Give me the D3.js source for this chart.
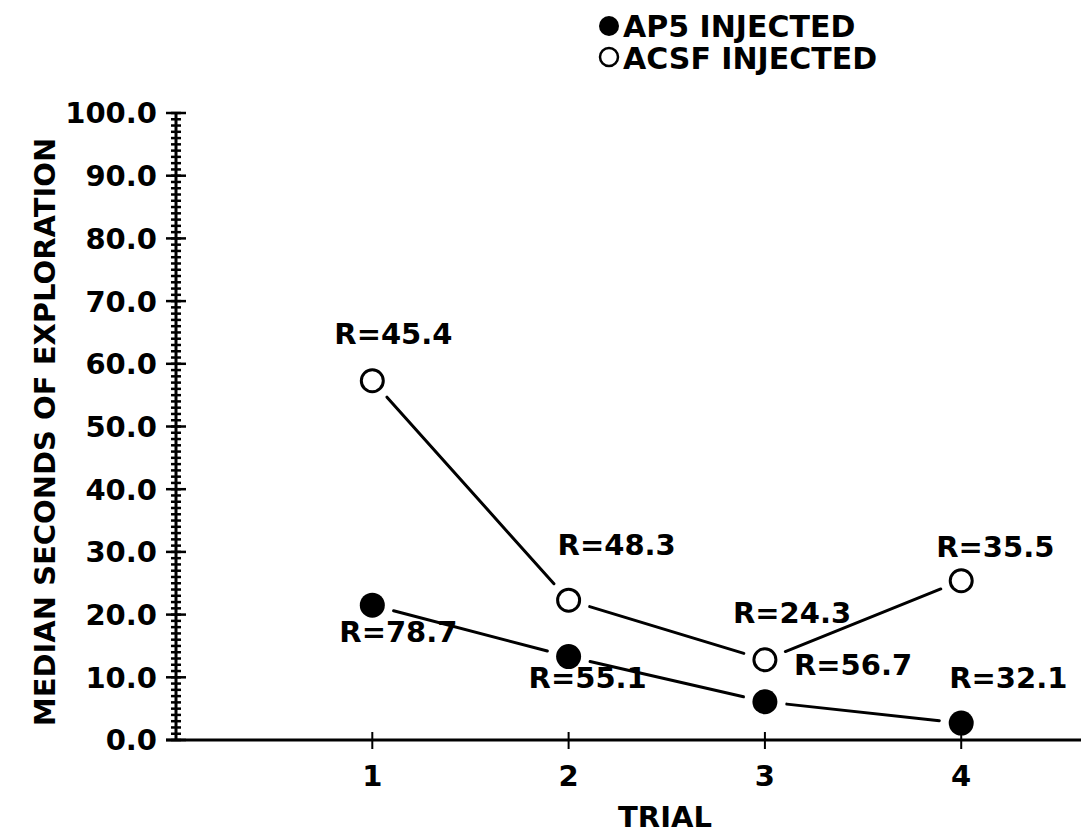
<!DOCTYPE html>
<html><head><meta charset="utf-8">
<script src="https://cdn.jsdelivr.net/npm/d3@7"></script>
<style>
body{margin:0;background:#fff}
svg text{font-family:"DejaVu Sans",sans-serif;font-weight:bold;fill:#000}
</style>
</head><body>
<svg id="c" width="1081" height="835"></svg>
<script>
// ---- data ----
const trials = [1, 2, 3, 4];
const trialLabels = ["1", "2", "3", "4"];
const ap5 = [21.5, 13.3, 6.1, 2.7];
const acsf = [57.3, 22.3, 12.8, 25.4];
const ap5R = ["R=78.7", "R=55.1", "R=56.7", "R=32.1"];
const acsfR = ["R=45.4", "R=48.3", "R=24.3", "R=35.5"];
const yTicks = [0, 10, 20, 30, 40, 50, 60, 70, 80, 90, 100];
const yTickLabels = ["0.0", "10.0", "20.0", "30.0", "40.0", "50.0", "60.0", "70.0", "80.0", "90.0", "100.0"];
const seriesNames = ["AP5 INJECTED", "ACSF INJECTED"];
const xTitle = "TRIAL";
const yTitle = "MEDIAN SECONDS OF EXPLORATION";

// ---- layout ----
const svg = d3.select("#c");
const x = d3.scaleLinear().domain([0, 4.6]).range([176, 1079]);
const y = d3.scaleLinear().domain([0, 100]).range([740, 113]);
const FS = 29;

// y axis line
svg.append("line").attr("x1", x(0)).attr("x2", x(0)).attr("y1", y(0)).attr("y2", y(100))
  .attr("stroke", "#000").attr("stroke-width", 3);
// minor ticks every 1 unit
svg.append("g").selectAll("line").data(d3.range(0, 101, 1)).join("line")
  .attr("x1", x(0) - 5).attr("x2", x(0) + 5)
  .attr("y1", d => y(d)).attr("y2", d => y(d))
  .attr("stroke", "#000").attr("stroke-width", 2.5);
// major ticks
svg.append("g").selectAll("line").data(yTicks).join("line")
  .attr("x1", x(0) - 10).attr("x2", x(0) + 10)
  .attr("y1", d => y(d)).attr("y2", d => y(d))
  .attr("stroke", "#000").attr("stroke-width", 2.5);
// y tick labels
svg.append("g").selectAll("text").data(yTicks).join("text")
  .attr("x", 157).attr("y", d => y(d)).attr("dy", "0.36em")
  .attr("text-anchor", "end").attr("font-size", FS)
  .text((d, i) => yTickLabels[i]);

// x axis line
svg.append("line").attr("x1", x(0) - 10).attr("x2", 1081).attr("y1", y(0)).attr("y2", y(0))
  .attr("stroke", "#000").attr("stroke-width", 3);
svg.append("g").selectAll("line").data(trials).join("line")
  .attr("x1", d => x(d)).attr("x2", d => x(d))
  .attr("y1", y(0) - 8).attr("y2", y(0) + 9)
  .attr("stroke", "#000").attr("stroke-width", 2);
svg.append("g").selectAll("text").data(trials).join("text")
  .attr("x", d => x(d)).attr("y", 786).attr("text-anchor", "middle")
  .attr("font-size", FS).text((d, i) => trialLabels[i]);

// titles
svg.append("text").attr("x", 665).attr("y", 827).attr("text-anchor", "middle")
  .attr("font-size", FS).text(xTitle);
svg.append("text").attr("transform", "translate(55,432) rotate(-90)")
  .attr("text-anchor", "middle").attr("font-size", 29).text(yTitle);

// connecting segments, shortened near markers
function segs(vals) {
  const out = [];
  for (let i = 0; i < vals.length - 1; i++) {
    const x1 = x(trials[i]), y1 = y(vals[i]), x2 = x(trials[i + 1]), y2 = y(vals[i + 1]);
    const L = Math.hypot(x2 - x1, y2 - y1), g = 22;
    const ux = (x2 - x1) / L, uy = (y2 - y1) / L;
    out.push([x1 + ux * g, y1 + uy * g, x2 - ux * g, y2 - uy * g]);
  }
  return out;
}
[ap5, acsf].forEach(vals => {
  svg.append("g").selectAll("line").data(segs(vals)).join("line")
    .attr("x1", d => d[0]).attr("y1", d => d[1]).attr("x2", d => d[2]).attr("y2", d => d[3])
    .attr("stroke", "#000").attr("stroke-width", 3).attr("stroke-linecap", "round");
});

// markers
svg.append("g").selectAll("circle").data(acsf).join("circle")
  .attr("cx", (d, i) => x(trials[i])).attr("cy", d => y(d)).attr("r", 11)
  .attr("fill", "#fff").attr("stroke", "#000").attr("stroke-width", 3);
svg.append("g").selectAll("circle").data(ap5).join("circle")
  .attr("cx", (d, i) => x(trials[i])).attr("cy", d => y(d)).attr("r", 12.5)
  .attr("fill", "#000");

// R labels
const ap5Off = [[-33, 37], [-40, 31], [29, -27], [-12, -35]];
const acsfOff = [[-38, -37], [-11, -45], [-32, -37], [-25, -24]];
svg.append("g").selectAll("text").data(ap5).join("text")
  .attr("x", (d, i) => x(trials[i]) + ap5Off[i][0]).attr("y", (d, i) => y(d) + ap5Off[i][1])
  .attr("font-size", FS).text((d, i) => ap5R[i]);
svg.append("g").selectAll("text").data(acsf).join("text")
  .attr("x", (d, i) => x(trials[i]) + acsfOff[i][0]).attr("y", (d, i) => y(d) + acsfOff[i][1])
  .attr("font-size", FS).text((d, i) => acsfR[i]);

// legend
const lg = svg.append("g");
lg.append("circle").attr("cx", 609).attr("cy", 26).attr("r", 10).attr("fill", "#000");
lg.append("circle").attr("cx", 609).attr("cy", 57).attr("r", 9).attr("fill", "#fff")
  .attr("stroke", "#000").attr("stroke-width", 2.5);
lg.selectAll("text").data(seriesNames).join("text")
  .attr("x", 623).attr("y", (d, i) => 37 + i * 32).attr("font-size", 30).text(d => d);
</script>
</body></html>
